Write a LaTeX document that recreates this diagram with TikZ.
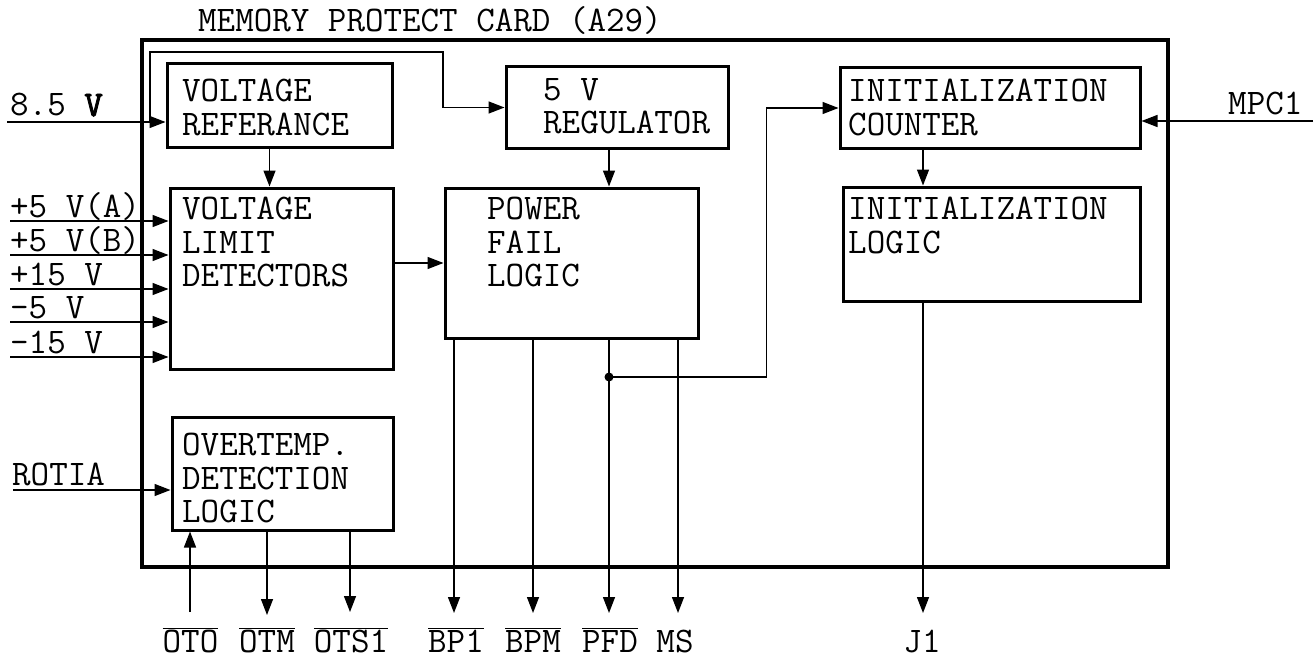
\documentclass[tikz,border=0pt]{standalone}
\usepackage{fontspec}
\newfontfamily\monobold{Latin Modern Mono}[FakeBold=2.5]
\usetikzlibrary{positioning,arrows.meta}

\begin{document}
\begin{tikzpicture}[x=1pt,y=-1pt,>={Triangle[length=16pt,width=12pt]},
  blk/.style={draw,line width=3pt,inner sep=0pt},
  btxt/.style={font=\fontsize{36}{33.5}\selectfont\ttfamily,align=left,inner sep=0pt,anchor=north west},
  pin/.style={font=\fontsize{36}{40}\selectfont\ttfamily,inner sep=0pt},
  sig/.style={line width=1.4pt}]
\useasboundingbox (0,0) rectangle (1316,658);

% card outline and title
\node[blk,line width=3.4pt,minimum width=1026,minimum height=527] (card) at (655,303.5) {};
\node[pin,anchor=base west] (title) at (198,32) {MEMORY PROTECT CARD (A29)};

% blocks
\node[blk,minimum width=225,minimum height=83] (vr) at (279.5,105.5) {};
\node[blk,minimum width=222,minimum height=81] (reg) at (617,107.5) {};
\node[blk,minimum width=300,minimum height=80] (ic) at (990,108) {};
\node[blk,minimum width=223,minimum height=181] (vld) at (281.5,278.5) {};
\node[blk,minimum width=253,minimum height=150] (pf) at (571.5,263) {};
\node[blk,minimum width=297,minimum height=114] (il) at (991.5,244) {};
\node[blk,minimum width=221,minimum height=113] (ot) at (282.5,473.5) {};

\node[btxt] (vrtxt) at (182,79) {VOLTAGE\\REFERANCE};
\node[btxt] (regtxt) at (543,78) {5 V\\REGULATOR};
\node[btxt] (ictxt) at (848,79) {INITIALIZATION\\COUNTER};
\node[btxt] (vldtxt) at (182,197) {VOLTAGE\\LIMIT\\DETECTORS};
\node[btxt] (pftxt) at (487,197) {POWER\\FAIL\\LOGIC};
\node[btxt] (iltxt) at (848,197) {INITIALIZATION\\LOGIC};
\node[btxt] (ottxt) at (182,433) {OVERTEMP.\\DETECTION\\LOGIC};

% inputs on the left
\node[pin,anchor=base west] (l85) at (10,116) {8.5 {\monobold V}};
\coordinate (in85) at (7,122);
\coordinate (fb) at (150,122);
\draw[sig,->] (in85) -- (in85 -| vr.west);
\draw[sig,->] (fb) -- (150,52) -- (443,52) |- (reg.west);

\foreach \y/\lab [count=\i] in {221/{+5 V(A)},255/{+5 V(B)},289/{+15 V},322/{-5 V},357/{-15 V}} {
  \node[pin,anchor=base west] (lv\i) at (10,\y-4) {\lab};
  \coordinate (sv\i) at (10,\y);
  \draw[sig,->] (sv\i) -- (sv\i -| vld.west);
}

\node[pin,anchor=base west] (lrot) at (12,485) {ROTIA};
\coordinate (rot) at (13,490);
\draw[sig,->] (rot) -- (rot -| ot.west);

% input on the right
\node[pin,anchor=base west] (lmpc) at (1228,115) {MPC1};
\coordinate (mpc) at (1313,121);
\draw[sig,->] (mpc) -- (mpc -| ic.east);

% internal connections
\draw[sig,->] ([xshift=-10pt]vr.south) -- ([xshift=-10pt]vr.south |- vld.north);
\draw[sig,->] (vld.east |- pf.west) -- (pf.west);
\coordinate (jct) at (609,377);
\draw[sig,->] (jct |- reg.south) -- (jct |- pf.north);
\fill (jct) circle (4.5pt);
\draw[sig,->] (jct) -| ([xshift=-72pt]ic.west) -- (ic.west);
\coordinate (tJ) at (923,613);
\draw[sig,->] (tJ |- ic.south) -- (tJ |- il.north);

% outputs at the bottom
\coordinate (tOTO) at (190,612);
\coordinate (tOTM) at (267,615);
\coordinate (tOTS) at (350,612);
\coordinate (tBP) at (454,613);
\coordinate (tBPM) at (533,613);
\coordinate (tPFD) at (609,613);
\coordinate (tMS) at (678,613);
\draw[sig,->] (tOTO) -- (tOTO |- ot.south);
\draw[sig,->] (tOTM |- ot.south) -- (tOTM);
\draw[sig,->] (tOTS |- ot.south) -- (tOTS);
\foreach \t in {tBP,tBPM,tPFD,tMS}
  \draw[sig,->] (\t |- pf.south) -- (\t);
\draw[sig,->] (tJ |- il.south) -- (tJ);

\node[pin,anchor=base] (loto) at (190.5,652) {$\overline{\hbox{OTO}}$};
\node[pin,anchor=base] (lotm) at (267,652) {$\overline{\hbox{OTM}}$};
\node[pin,anchor=base] (lots) at (351,652) {$\overline{\hbox{OTS1}}$};
\node[pin,anchor=base] (lbp) at (456,652) {$\overline{\hbox{BP1}}$};
\node[pin,anchor=base] (lbpm) at (533,652) {$\overline{\hbox{BPM}}$};
\node[pin,anchor=base] (lpfd) at (610,652) {$\overline{\hbox{PFD}}$};
\node[pin,anchor=base] (lms) at (675,652) {MS};
\node[pin,anchor=base] (lj) at (922,652) {J1};
\end{tikzpicture}
\end{document}
